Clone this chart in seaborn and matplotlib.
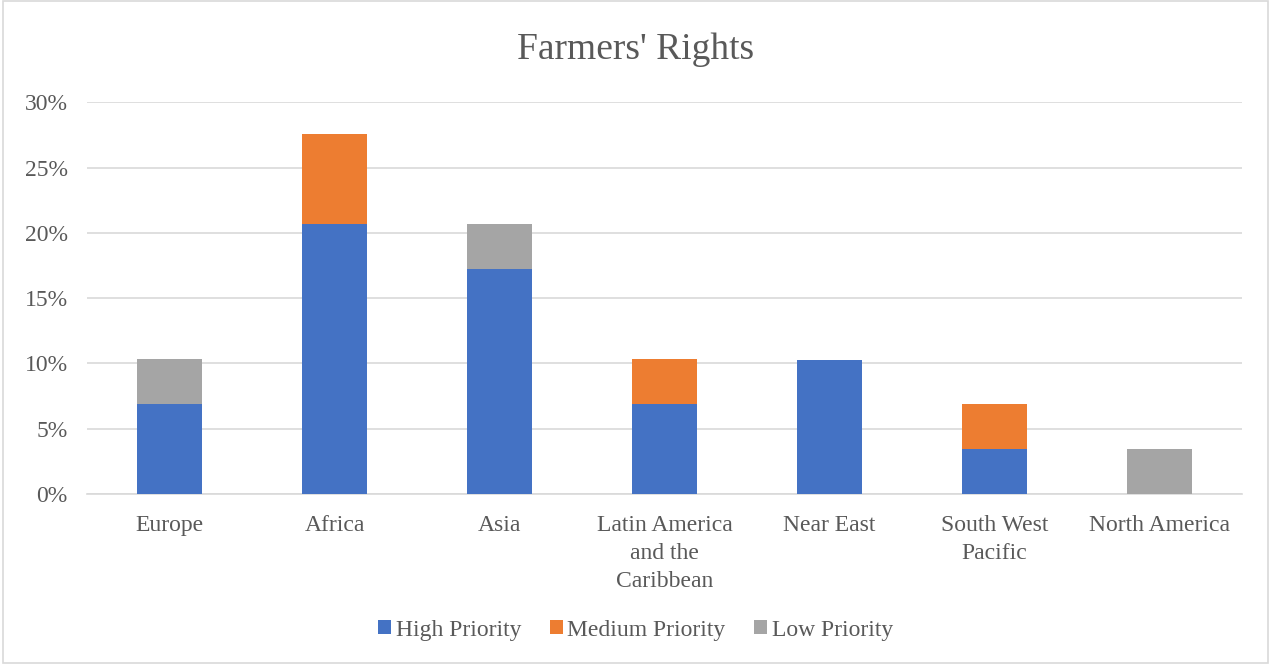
import numpy as np
import pandas as pd
import matplotlib
matplotlib.use("Agg")
import matplotlib.pyplot as plt
import seaborn as sns
from matplotlib.patches import Patch, Rectangle
from matplotlib.ticker import PercentFormatter

regions = ["Europe", "Africa", "Asia", "Latin America\nand the\nCaribbean",
           "Near East", "South West\nPacific", "North America"]
high = [6.9, 20.7, 17.2, 6.9, 10.3, 3.45, 0.0]
medium = [0.0, 6.9, 0.0, 3.45, 0.0, 3.45, 0.0]
low = [3.45, 0.0, 3.45, 0.0, 0.0, 0.0, 3.45]
series = ["High Priority", "Medium Priority", "Low Priority"]
colors = ["#4472C4", "#ED7D31", "#A5A5A5"]

sns.set_style("white")
plt.rcParams["font.family"] = ["Liberation Serif", "DejaVu Serif"]
text_color = "#595959"

df = pd.DataFrame({"region": regions, "high": high, "medium": medium, "low": low})
df["cum_high"] = df["high"]
df["cum_medium"] = df["cum_high"] + df["medium"]
df["cum_low"] = df["cum_medium"] + df["low"]

fig = plt.figure(figsize=(12.71, 6.64), dpi=100)
ax = fig.add_axes([0.0685, 0.256, 0.9085, 0.59])

# draw cumulative totals from the top segment down so the stack shows
for col, c in zip(["cum_low", "cum_medium", "cum_high"], colors[::-1]):
    sns.barplot(data=df, x="region", y=col, color=c, width=0.395,
                saturation=1, ax=ax, linewidth=0, zorder=3)

ax.set_ylim(0, 30)
ax.set_yticks(np.arange(0, 31, 5))
ax.yaxis.set_major_formatter(PercentFormatter(decimals=0))
ax.yaxis.grid(True, color="#D9D9D9", linewidth=1.2, zorder=0)
ax.set_axisbelow(True)
for s in ["top", "right", "left"]:
    ax.spines[s].set_visible(False)
ax.spines["bottom"].set_color("#D9D9D9")
ax.spines["bottom"].set_linewidth(1.2)
ax.set_xlabel("")
ax.set_ylabel("")
ax.tick_params(axis="both", length=0, labelsize=17, colors=text_color)
ax.tick_params(axis="x", pad=15)
ax.tick_params(axis="y", pad=14)
for t in ax.get_xticklabels():
    t.set_verticalalignment("top")
    t.set_linespacing(1.45)

fig.text(0.5, 0.925, "Farmers' Rights", ha="center", va="center",
         fontsize=27, color=text_color)

handles = [Patch(facecolor=c, edgecolor="none") for c in colors]
fig.legend(handles, series, loc="center", bbox_to_anchor=(0.5, 0.051), ncol=3,
           frameon=False, fontsize=17, labelcolor=text_color,
           handlelength=0.55, handleheight=0.55, handletextpad=0.2, columnspacing=1.2)

fig.add_artist(Rectangle((0.002, 0.002), 0.996, 0.996, transform=fig.transFigure,
                         fill=False, edgecolor="#D9D9D9", linewidth=1.2))

fig.savefig("out.png", dpi=100)
plt.close(fig)
